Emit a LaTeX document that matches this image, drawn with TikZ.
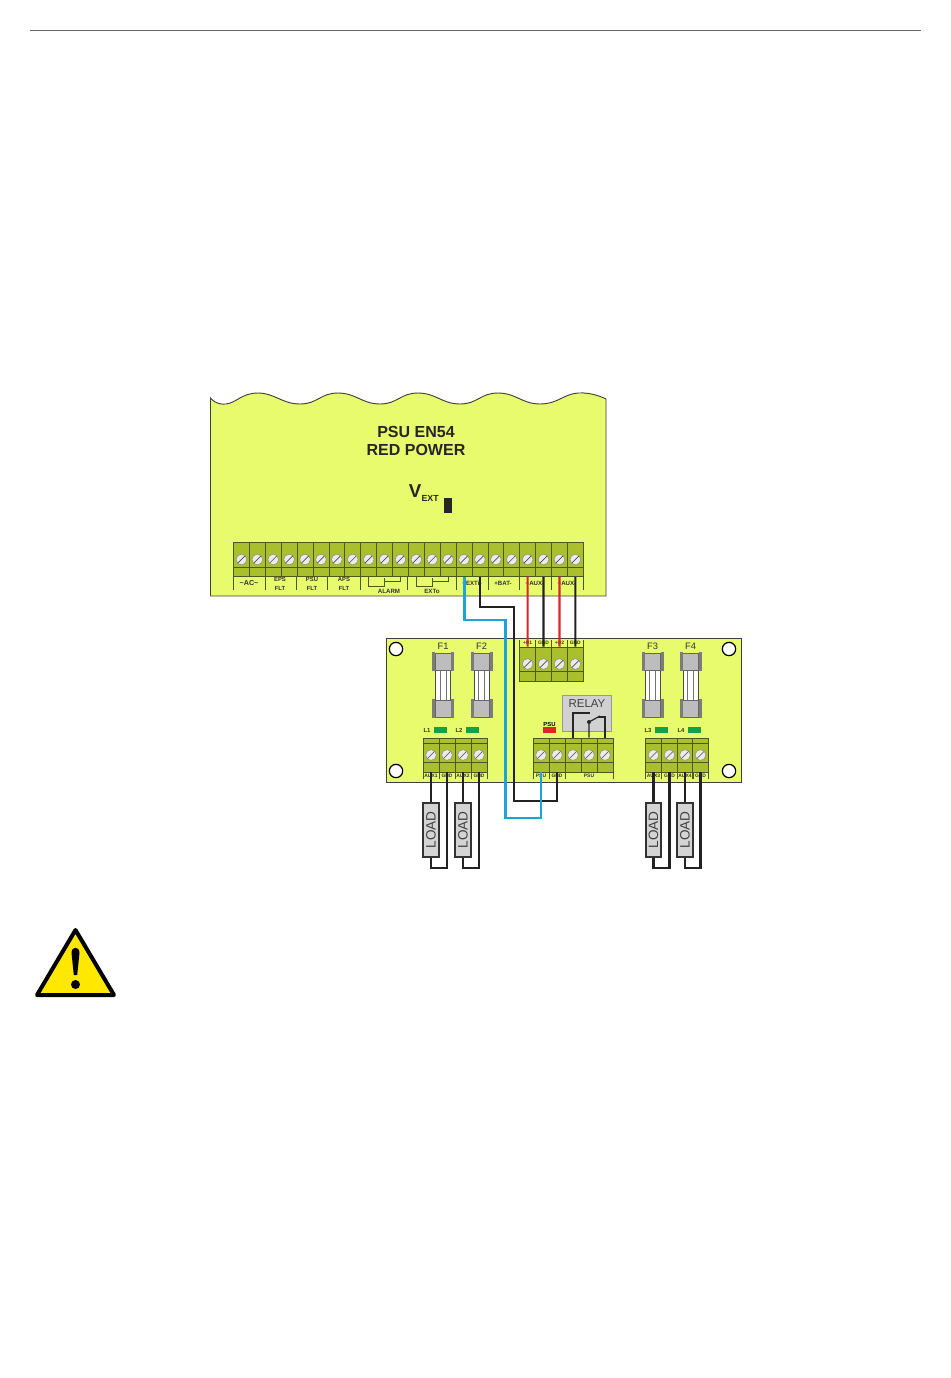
\documentclass[tikz,border=0pt]{standalone}
\usepackage{fontspec}
\setmainfont{Liberation Sans}
\definecolor{pcbyellow}{HTML}{E8FB6C}
\definecolor{termgreen}{HTML}{AABF2E}
\definecolor{termline}{HTML}{4A5A18}
\definecolor{wireblue}{HTML}{1BA3DB}
\definecolor{wirered}{HTML}{D9262E}
\definecolor{wireblack}{HTML}{222222}
\definecolor{ledgreen}{HTML}{12A04A}
\definecolor{ledred}{HTML}{E0261E}
\definecolor{capgray}{HTML}{BDBDBD}
\definecolor{flangegray}{HTML}{7C7C7C}
\definecolor{warnyellow}{HTML}{FFE800}
\tikzset{
	pcb/.style={draw=black!75,line width=0.7pt,fill=pcbyellow},
	terminal/.style={draw=termline,line width=0.5pt,fill=termgreen,minimum width=11.9pt,minimum height=25.5pt,inner sep=0pt,
		path picture={\draw[termline,line width=0.4pt]([yshift=7.2pt]path picture bounding box.south west)--([yshift=7.2pt]path picture bounding box.south east);}},
	screw/.style={circle,draw=black!50,line width=0.3pt,fill=black!8,minimum size=8pt,inner sep=0pt,
		path picture={\draw[black!70,line width=0.5pt]([shift={(1.2pt,1.2pt)}]path picture bounding box.south west)--([shift={(-1.2pt,-1.2pt)}]path picture bounding box.north east);}},
	hole/.style={circle,draw=black,line width=0.9pt,fill=white,minimum size=10pt,inner sep=0pt},
	tick/.style={draw=termline,line width=0.5pt},
	tiny/.style={inner sep=0pt,text=black!80,font=\fontsize{3.7}{4.6}\selectfont\bfseries,align=center},
	small/.style={inner sep=0pt,text=black!80,font=\fontsize{7}{8}\selectfont},
	led/.style={draw=none,minimum width=10pt,minimum height=4.5pt,inner sep=0pt},
	loadbox/.style={rotate=90,draw=black!80,line width=1.5pt,fill=black!17,minimum width=41pt,minimum height=11.5pt,inner sep=0pt,text=black!75,font=\fontsize{10.2}{12}\selectfont},
	wire/.style={line width=1.6pt,color=wireblack,line join=miter},
}
\begin{document}
\begin{tikzpicture}[x=0.75pt,y=-0.75pt]
	\useasboundingbox(0,0)rectangle(950,1378);
	\draw[black!60,line width=0.6pt](30,30)--(921,30);
	\draw[pcb](210.5,596)--plot[smooth,tension=0.8]coordinates{(210.5,398)(226,404)(258,393)(300,404)(338,393)(380,404)(418,393)(460,404)(498,393)(540,404)(578,393)(606,399)}--(606,596)--cycle;
	\node[inner sep=0pt,text=black!85,font=\fontsize{12}{13.5}\selectfont\bfseries,align=center](title)at(416,441){PSU EN54\\RED POWER};
	\node[inner sep=0pt,text=black!85,font=\fontsize{14}{16}\selectfont\bfseries](vext)at(415,491){V};
	\node[inner sep=0pt,text=black!85,font=\fontsize{6.6}{8}\selectfont\bfseries,right=1pt](vextsub)at(420,498){EXT};
	\node[draw=none,fill=black!85,minimum width=6pt,minimum height=11.5pt,inner sep=0pt](vextled)at(448,505.5){};

	\foreach \i in {1,...,22}{
		\node[terminal](t\i)at({233.5+15.9*(\i-.5)},559.5){};
		\node[screw](ts\i)at(t\i){};
	}
	\foreach \x in {233.5,265,296.5,327.5,360,407.5,456,488,519.5,551,583}
		\draw[tick](\x,576)--(\x,590);
	\node[tiny,font=\fontsize{5.4}{6}\selectfont\bfseries](lac)at(249,583){\textasciitilde AC\textasciitilde};
	\foreach \x/\txt in {280/EPS,312/PSU,344/APS}
		\node[tiny,font=\fontsize{4.4}{6.2}\selectfont\bfseries](l\txt)at(\x,584){\txt\\FLT};
	\node[tiny,font=\fontsize{4.6}{6}\selectfont\bfseries](lext)at(472,583){+EXTi-};
	\node[tiny,font=\fontsize{4.6}{6}\selectfont\bfseries](lbat)at(503,583){+BAT-};
	\node[tiny,font=\fontsize{4.6}{6}\selectfont\bfseries](laux1)at(535,583){+AUX-};
	\node[tiny,font=\fontsize{4.6}{6}\selectfont\bfseries](laux2)at(567,583){+AUX-};
	\node[tiny,font=\fontsize{4.6}{6}\selectfont\bfseries](lalarm)at(389,591){ALARM};
	\node[tiny,font=\fontsize{4.6}{6}\selectfont\bfseries](lexto)at(432,591){EXTo};
	\draw[tick](368,576)--(368,586)--(384,586)--(384,578);
	\draw[tick](385,581)--(400,581)--(400,576);
	\draw[tick](416,576)--(416,586)--(432,586)--(432,578);
	\draw[tick](432.5,581)--(448,581)--(448,576);

	\draw[pcb](386,638)rectangle(741,782);
	\node[hole](h1)at(396,649){};
	\node[hole](h2)at(396,771){};
	\node[hole](h3)at(729,649){};
	\node[hole](h4)at(729,771){};

	\foreach \x/\txt in {443/F1,481.5/F2,652.5/F3,690.5/F4}{
		\node[small](lf\txt)at(\x,646){\txt};
		\draw[black!70,line width=0.4pt,fill=white](\x-7.5,670)rectangle(\x+7.5,701);
		\draw[black!55,line width=0.5pt](\x-3,670)--(\x-3,701);
		\draw[black!55,line width=0.5pt](\x+3,670)--(\x+3,701);
		\foreach \y in {652,699}{
			\draw[black!60,line width=0.3pt,fill=capgray](\x-8,\y+1)rectangle(\x+8,\y+18);
			\draw[draw=none,fill=flangegray](\x-11,\y)rectangle(\x-8,\y+19);
			\draw[draw=none,fill=flangegray](\x+8,\y)rectangle(\x+11,\y+19);
		}
	}
	\foreach \x/\txt in {427/L1,459/L2,648/L3,681/L4}{
		\node[tiny,font=\fontsize{4.4}{5}\selectfont\bfseries](l\txt)at(\x,730){\txt};
		\node[led,fill=ledgreen](led\txt)at(\x+13.5,730){};
	}

	\foreach \i in {1,2,3,4}{
		\node[terminal](u\i)at({519.7+15.9*(\i-.5)},664){};
		\node[screw](us\i)at(u\i){};
	}
	\foreach \x in {519.7,535.6,551.5,567.4,583.3}
		\draw[tick](\x,647)--(\x,640);
	\foreach \i/\x/\txt in {1/527.6/+U1,2/543.5/GND,3/559.4/+U2,4/575.3/GND}
		\node[tiny](lu\i)at(\x,643){\txt};

	\foreach \i/\x in {1/431,2/447,3/463,4/479,5/653.5,6/669.5,7/685,8/700.5}{
		\node[terminal](c\i)at(\x,755){};
		\node[screw](cs\i)at(c\i){};
		\draw[tick](\x-8,743)--(\x+8,743);
		\draw[tick](\x-8,772)--(\x-8,779);
		\draw[tick](\x+8,772)--(\x+8,779);
	}
	\foreach \i/\x/\txt in {1/431/AUX1,2/447/GND,3/463/AUX2,4/479/GND,5/653.5/AUX3,6/669.5/GND,7/685/AUX4,8/700.5/GND}
		\node[tiny](lc\i)at(\x,776){\txt};

	\foreach \i/\x in {1/541,2/557,3/573,4/589,5/605}{
		\node[terminal](p\i)at(\x,755){};
		\node[screw](ps\i)at(p\i){};
		\draw[tick](\x-8,743)--(\x+8,743);
	}
	\draw[tick](533,772)--(533,779);
	\draw[tick](549,772)--(549,779);
	\draw[tick](565,772)--(565,779);
	\draw[tick](613,772)--(613,779);
	\node[tiny](lp1)at(541,776){PSU};
	\node[tiny](lp2)at(557,776){GND};
	\node[tiny](lp3)at(589,776){PSU};
	\node[led,fill=ledred](ledpsu)at(549.5,730){};
	\node[tiny,text=black,font=\fontsize{4.4}{5}\selectfont\bfseries](lpsu)at(549.5,724){PSU};

	\node[draw=black!40,line width=0.8pt,fill=black!18,minimum width=37pt,minimum height=27.5pt,inner sep=0pt](relay)at(587,713.5){};
	\node[inner sep=0pt,text=black!75,font=\fontsize{8.6}{10}\selectfont](lrelay)at(587,703.5){RELAY};
	\coordinate(rc1)at(590,713);
	\coordinate(rc2)at(589,722);
	\coordinate(rc3)at(600,716);
	\coordinate(rc4)at(598,717);
	\draw[black!85,line width=0.9pt](p3.north)|-(rc1);
	\draw[black!85,line width=0.9pt](p4.north)--(rc2)--(rc3);
	\draw[black!85,line width=0.9pt](rc4)-|(p5.north);
	\fill[black!85](rc2)circle(2);

	\coordinate(bl1)at(505.5,620);
	\coordinate(bl2)at(505.5,818);
	\coordinate(bk1)at(514,607);
	\coordinate(bk2)at(514,801);
	\draw[wire,wireblack](t16.south)|-(bk1)--(bk2)-|(p2.south);
	\draw[wire,wireblue,line width=2.2pt](t15.south)|-(bl1)--(bl2)-|(p1.south);
	\draw[wire,wirered](t19.south)--(u1.north);
	\draw[wire](t20.south)--(u2.north);
	\draw[wire,wirered](t21.south)--(u3.north);
	\draw[wire](t22.south)--(u4.north);

	\foreach \a/\b/\n/\x in {1/2/1/431,3/4/2/463,5/6/3/653.5,7/8/4/685}{
		\node[loadbox](load\n)at(\x,830){LOAD};
		\draw[wire](c\a.south)--(load\n.east);
		\draw[wire](load\n.west)--++(0,10)-|(c\b.south);
	}

	\draw[black,line width=3pt,line join=round,fill=warnyellow](75.5,930)--(114,995)--(37,995)--cycle;
	\fill[black](71.5,953)..controls(71.5,946)and(79.5,946)..(79.5,953)--(77.2,975)--(73.8,975)--cycle;
	\fill[black](75.5,984.5)circle(4.5);
\end{tikzpicture}
\end{document}
